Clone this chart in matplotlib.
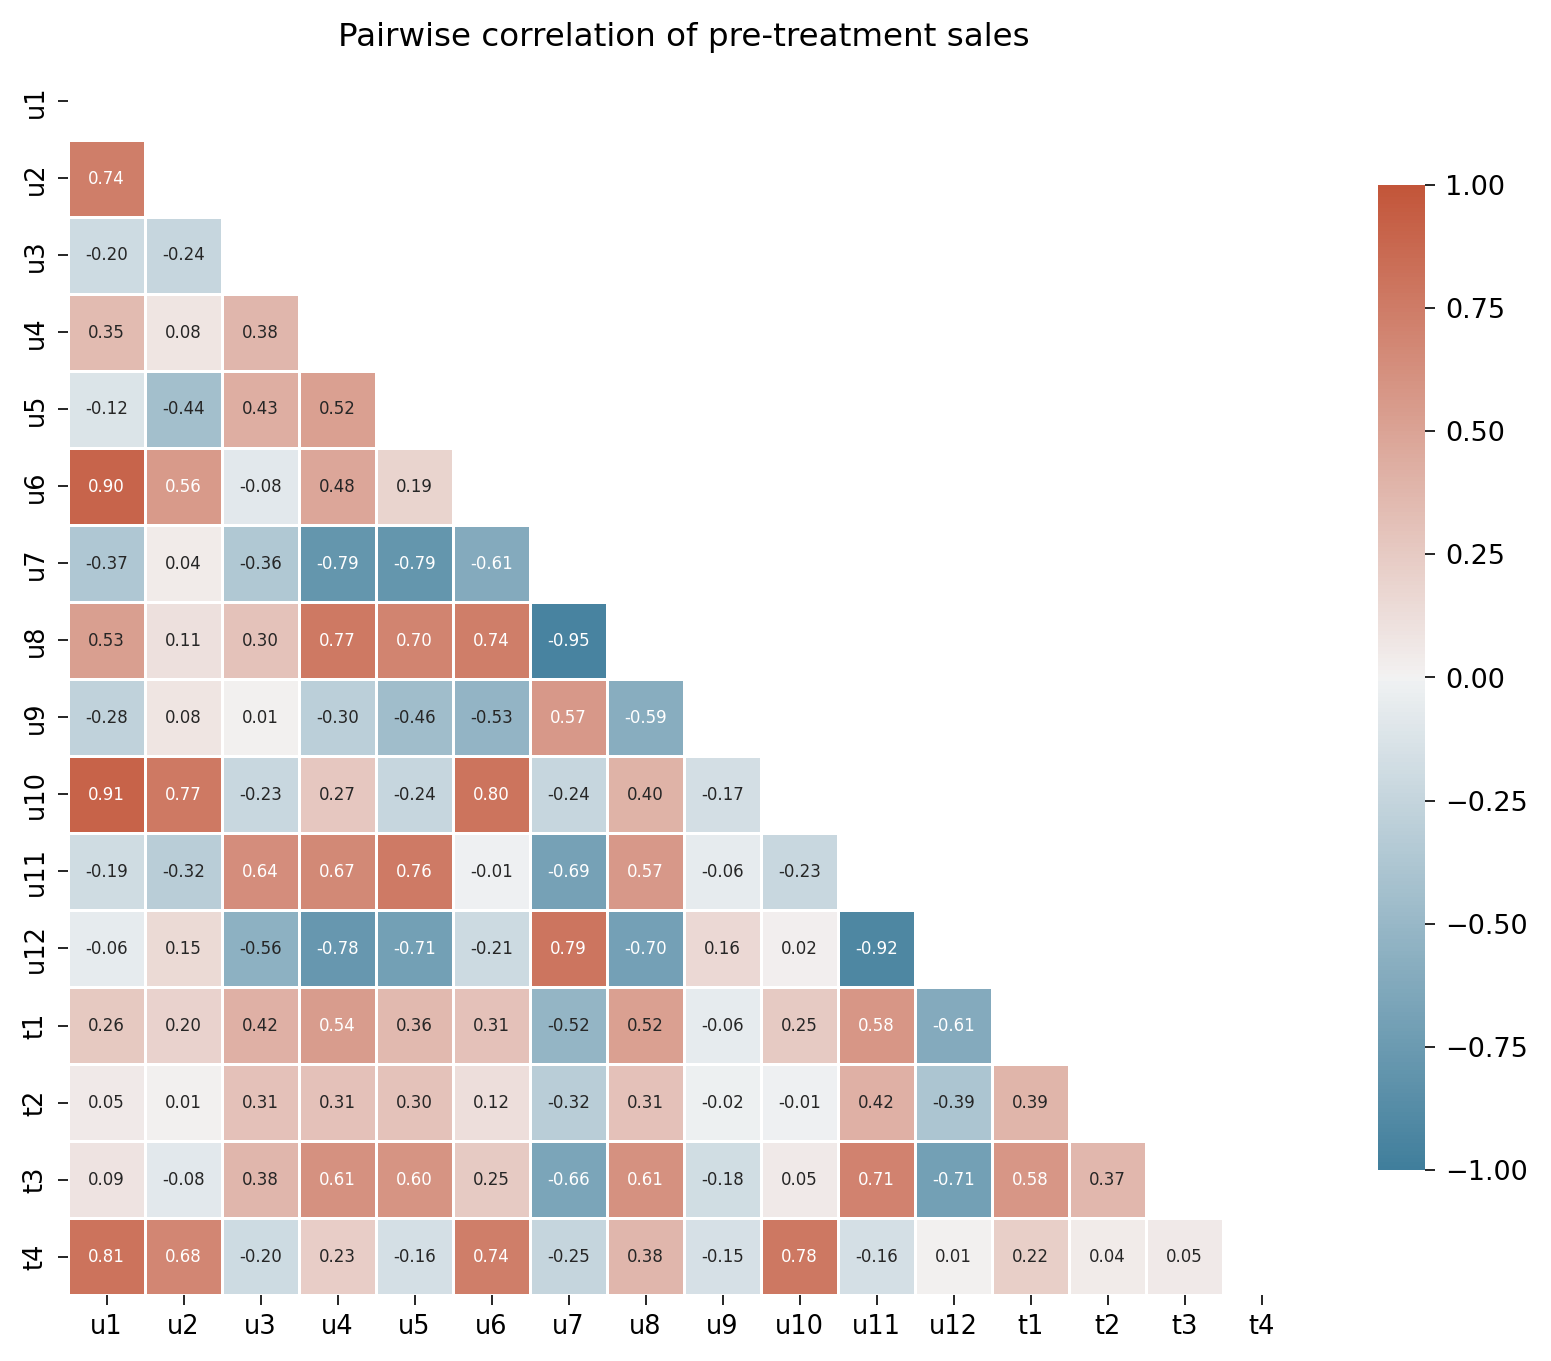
import numpy as np
import pandas as pd
import seaborn as sns
import matplotlib.pyplot as plt

# labels and lower-triangle correlations (row i holds corr with cols 0..i-1)
LABELS = ["u1", "u2", "u3", "u4", "u5", "u6", "u7", "u8", "u9", "u10",
          "u11", "u12", "t1", "t2", "t3", "t4"]

LOWER = [
    [],
    [0.74],
    [-0.20, -0.24],
    [0.35, 0.08, 0.38],
    [-0.12, -0.44, 0.43, 0.52],
    [0.90, 0.56, -0.08, 0.48, 0.19],
    [-0.37, 0.04, -0.36, -0.79, -0.79, -0.61],
    [0.53, 0.11, 0.30, 0.77, 0.70, 0.74, -0.95],
    [-0.28, 0.08, 0.01, -0.30, -0.46, -0.53, 0.57, -0.59],
    [0.91, 0.77, -0.23, 0.27, -0.24, 0.80, -0.24, 0.40, -0.17],
    [-0.19, -0.32, 0.64, 0.67, 0.76, -0.01, -0.69, 0.57, -0.06, -0.23],
    [-0.06, 0.15, -0.56, -0.78, -0.71, -0.21, 0.79, -0.70, 0.16, 0.02, -0.92],
    [0.26, 0.20, 0.42, 0.54, 0.36, 0.31, -0.52, 0.52, -0.06, 0.25, 0.58, -0.61],
    [0.05, 0.01, 0.31, 0.31, 0.30, 0.12, -0.32, 0.31, -0.02, -0.01, 0.42, -0.39, 0.39],
    [0.09, -0.08, 0.38, 0.61, 0.60, 0.25, -0.66, 0.61, -0.18, 0.05, 0.71, -0.71, 0.58, 0.37],
    [0.81, 0.68, -0.20, 0.23, -0.16, 0.74, -0.25, 0.38, -0.15, 0.78, -0.16, 0.01, 0.22, 0.04, 0.05],
]

n = len(LABELS)
corr = np.eye(n)
for i, row in enumerate(LOWER):
    for j, v in enumerate(row):
        corr[i, j] = v
        corr[j, i] = v
corr = pd.DataFrame(corr, index=LABELS, columns=LABELS)

mask = np.triu(np.ones_like(corr, dtype=bool))
cmap = sns.diverging_palette(230, 20, as_cmap=True)

fig = plt.figure(figsize=(1551 / 150, 1361 / 150), dpi=150)
ax = fig.add_axes([68 / 1551, 66 / 1361, 1232 / 1551, 1232 / 1361])
cax = fig.add_axes([1378 / 1551, 191 / 1361, 47 / 1551, 985 / 1361])

sns.heatmap(corr, mask=mask, cmap=cmap, vmin=-1, vmax=1, center=0,
            annot=True, fmt=".2f", annot_kws={"size": 8},
            linewidths=0.5, linecolor="white",
            ax=ax, cbar_ax=cax)

ax.set_title("Pairwise correlation of pre-treatment sales", fontsize=15.6, pad=8)
ax.tick_params(labelsize=12.3, length=4.8, pad=4.5)
cax.tick_params(labelsize=13, length=4.8, pad=5)
for sp in cax.spines.values():
    sp.set_visible(False)

fig.savefig("out.png", dpi=150)
